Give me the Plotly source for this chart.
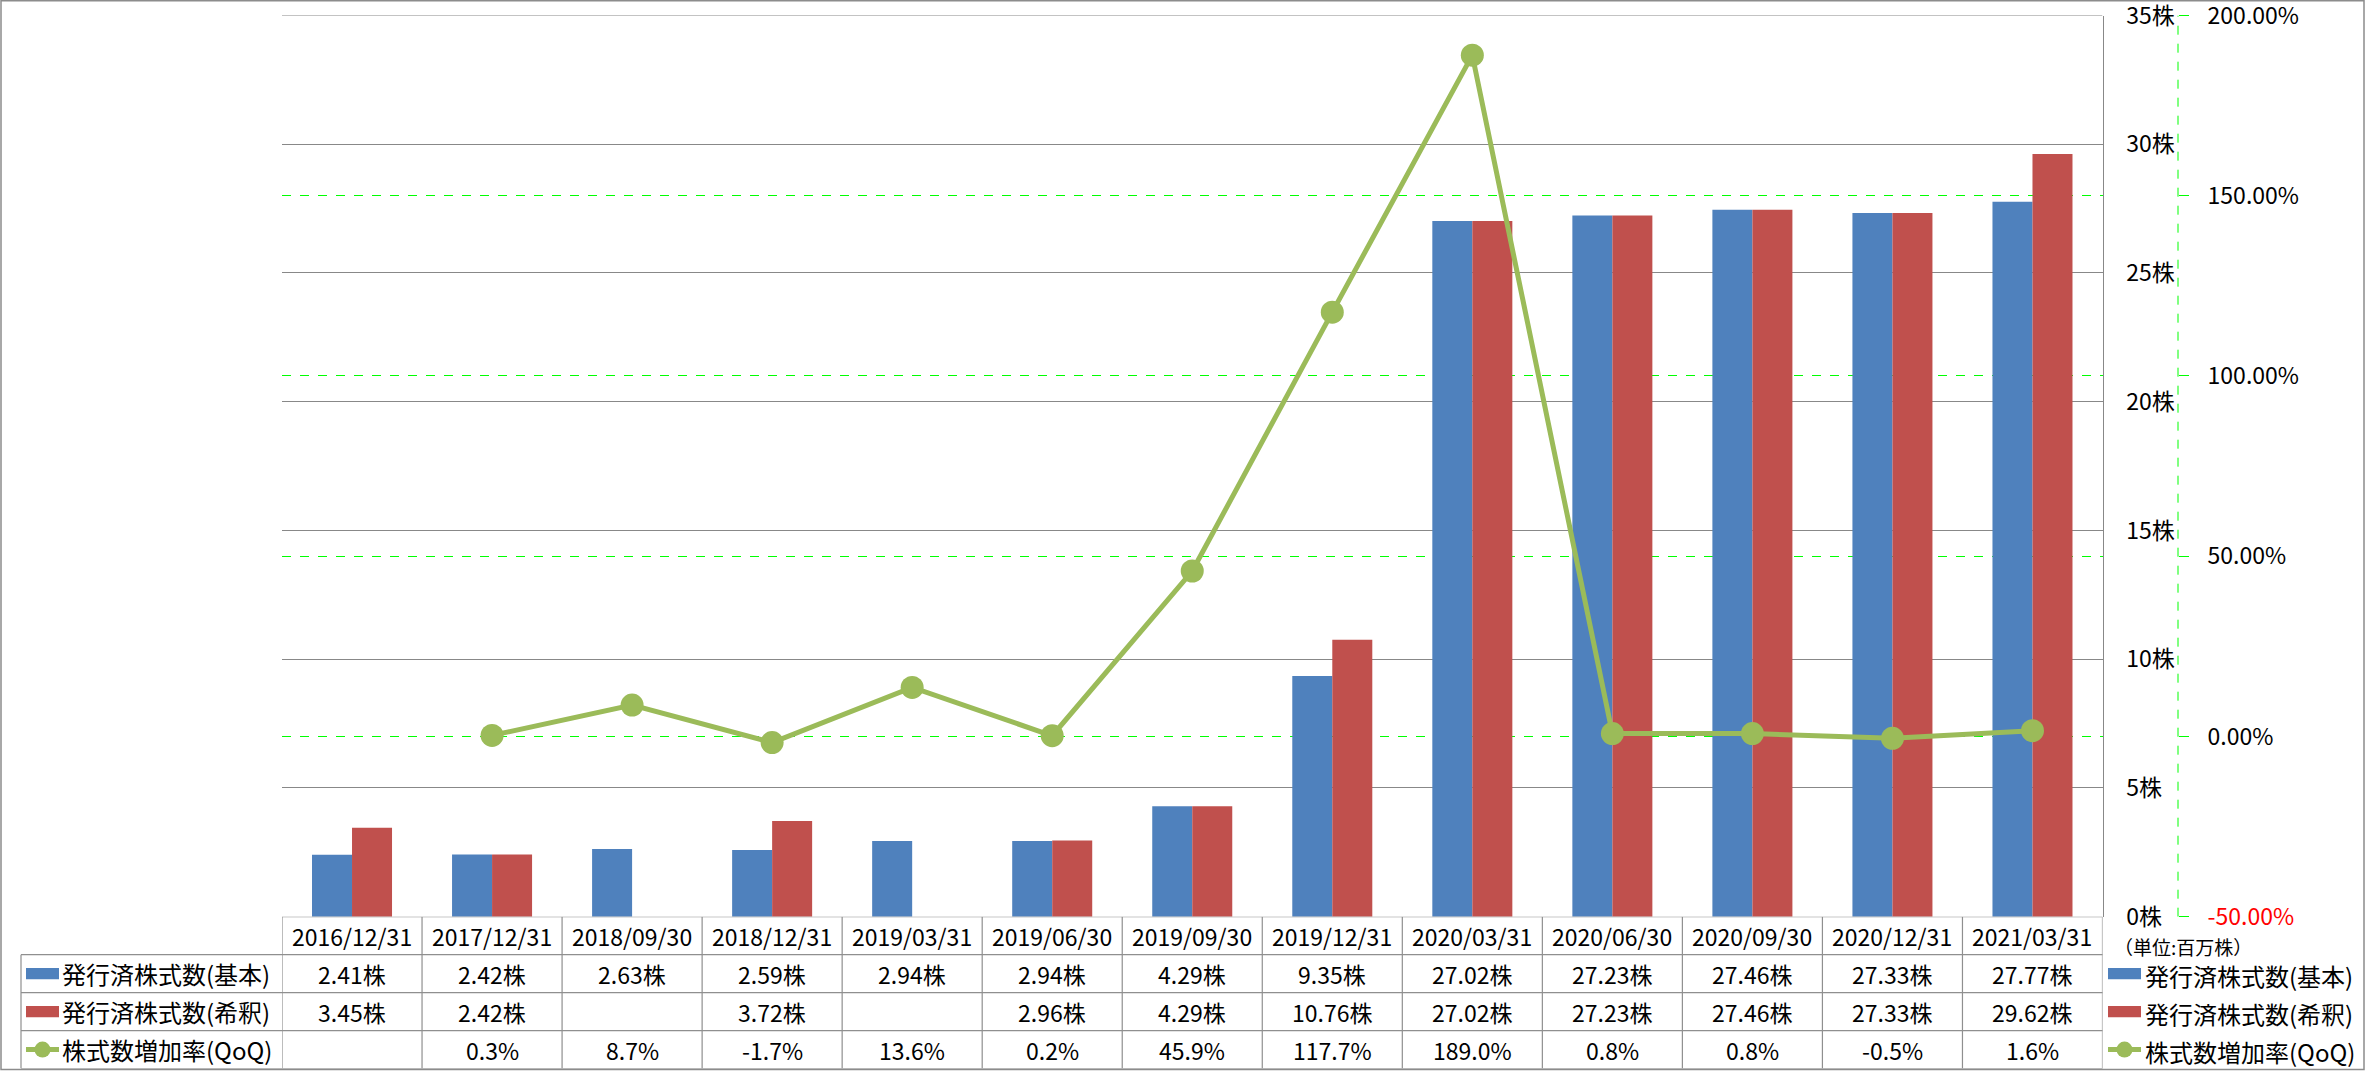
import plotly.graph_objects as go

W, H = 2367, 1071

dates = ["2016/12/31", "2017/12/31", "2018/09/30", "2018/12/31", "2019/03/31", "2019/06/30",
         "2019/09/30", "2019/12/31", "2020/03/31", "2020/06/30", "2020/09/30", "2020/12/31", "2021/03/31"]
basic = [2.41, 2.42, 2.63, 2.59, 2.94, 2.94, 4.29, 9.35, 27.02, 27.23, 27.46, 27.33, 27.77]
diluted = [3.45, 2.42, None, 3.72, None, 2.96, 4.29, 10.76, 27.02, 27.23, 27.46, 27.33, 29.62]
qoq = [None, 0.3, 8.7, -1.7, 13.6, 0.2, 45.9, 117.7, 189.0, 0.8, 0.8, -0.5, 1.6]

name_basic = "発行済株式数(基本)"
name_dil = "発行済株式数(希釈)"
name_qoq = "株式数増加率(QoQ)"
unit_text = "（単位:百万株）"

y1_ticks = [0, 5, 10, 15, 20, 25, 30, 35]
y2_ticks = [-50, 0, 50, 100, 150, 200]

BLUE = "#4F81BD"
RED = "#C0504D"
GREEN = "#9BBB59"
GRID = "#888888"
TGRID = "#8F8F8F"
FONT = "Noto Sans CJK JP"


def px(x):
    return x / W


def py(y):
    return 1 - y / H


PLOT_L, PLOT_R, PLOT_T, PLOT_B = 282, 2102.5, 15.5, 916.7
TABLE_B = 1068.5
AX2_X = 2178

fig = go.Figure()
fig.add_trace(go.Bar(x=dates, y=basic, name=name_basic, marker=dict(color=BLUE, line=dict(width=0))))
fig.add_trace(go.Bar(x=dates, y=diluted, name=name_dil, marker=dict(color=RED, line=dict(width=0))))
fig.add_trace(go.Scatter(x=dates, y=qoq, name=name_qoq, yaxis="y2", mode="lines+markers",
                         line=dict(color=GREEN, width=5), marker=dict(color=GREEN, size=23)))

shapes = []
annotations = []

# secondary axis line (dashed)
shapes.append(dict(type="line", xref="paper", yref="y2", x0=px(AX2_X), x1=px(AX2_X), y0=-50, y1=200,
                   line=dict(color="#00FF00", width=1, dash="dash")))
# top gridline at the range end (gray)
shapes.append(dict(type="line", xref="x", yref="y", x0=-0.5, x1=len(dates) - 0.5, y0=35, y1=35,
                   line=dict(color=GRID, width=1.2)))

# table grid
ncol = len(dates)
for k in range(ncol + 1):
    shapes.append(dict(type="line", xref="x", yref="y3", x0=k - 0.5, x1=k - 0.5, y0=0, y1=4,
                       line=dict(color=TGRID, width=1.2)))
shapes.append(dict(type="line", xref="paper", yref="y3", x0=px(21), x1=px(21), y0=1, y1=4,
                   line=dict(color=TGRID, width=1.2)))
shapes.append(dict(type="line", xref="x", yref="y3", x0=-0.5, x1=ncol - 0.5, y0=0, y1=0,
                   line=dict(color=TGRID, width=1.2)))
for r in [1, 2, 3, 4]:
    shapes.append(dict(type="line", xref="paper", yref="y3", x0=px(21), x1=px(PLOT_R), y0=r, y1=r,
                       line=dict(color=TGRID, width=1.2)))

tfont = dict(family=FONT, size=23, color="#000000")
for i, d in enumerate(dates):
    annotations.append(dict(x=d, y=0.5, xref="x", yref="y3", text=d, showarrow=False, font=tfont))
    if basic[i] is not None:
        annotations.append(dict(x=d, y=1.5, xref="x", yref="y3", text=f"{basic[i]:.2f}株", showarrow=False, font=tfont))
    if diluted[i] is not None:
        annotations.append(dict(x=d, y=2.5, xref="x", yref="y3", text=f"{diluted[i]:.2f}株", showarrow=False, font=tfont))
    if qoq[i] is not None:
        annotations.append(dict(x=d, y=3.5, xref="x", yref="y3", text=f"{qoq[i]:.1f}%", showarrow=False, font=tfont))

lfont = dict(family=FONT, size=24, color="#000000")


def legend_key(x0, row, kind, color):
    if kind == "bar":
        shapes.append(dict(type="rect", xref="paper", yref="y3", x0=px(x0), x1=px(x0 + 33),
                           y0=row + 0.5 - 0.15, y1=row + 0.5 + 0.15, fillcolor=color, line=dict(width=0)))
    else:
        shapes.append(dict(type="line", xref="paper", yref="y3", x0=px(x0), x1=px(x0 + 33),
                           y0=row + 0.5, y1=row + 0.5, line=dict(color=color, width=5)))
        shapes.append(dict(type="circle", xref="paper", yref="y3", x0=px(x0 + 16.5 - 8), x1=px(x0 + 16.5 + 8),
                           y0=row + 0.5 - 0.21, y1=row + 0.5 + 0.21, fillcolor=color, line=dict(width=0)))


items = [(name_basic, "bar", BLUE), (name_dil, "bar", RED), (name_qoq, "line", GREEN)]
for j, (nm, kind, col) in enumerate(items):
    row = j + 1
    legend_key(26, row, kind, col)
    annotations.append(dict(x=px(60), y=row + 0.5, xref="paper", yref="y3", text=nm, xanchor="left",
                            showarrow=False, font=lfont))
    legend_key(2108, row, kind, col)
    annotations.append(dict(x=px(2143), y=row + 0.55, xref="paper", yref="y3", text=nm, xanchor="left",
                            showarrow=False, font=lfont))

annotations.append(dict(x=px(2112), y=0.78, xref="paper", yref="y3", text=unit_text, xanchor="left",
                        showarrow=False, font=dict(family=FONT, size=19, color="#000000")))

# outer frame
shapes.append(dict(type="rect", xref="paper", yref="paper", x0=px(1), x1=px(2364), y0=py(1069.5), y1=py(0.8),
                   line=dict(color="#8C8C8C", width=1.5), fillcolor="rgba(0,0,0,0)"))

y1_text = [f"{v}株" for v in y1_ticks]
y2_text = [f'<span style="color:#FF0000">{v:.2f}%</span>' if v < 0 else f"{v:.2f}%" for v in y2_ticks]

fig.update_layout(
    width=W, height=H, autosize=False,
    margin=dict(l=0, r=0, t=0, b=0, pad=0, autoexpand=False),
    paper_bgcolor="white", plot_bgcolor="white",
    showlegend=False,
    barmode="group", bargap=0.4286, bargroupgap=0,
    font=dict(family=FONT, size=23, color="#000000"),
    xaxis=dict(domain=[px(PLOT_L), px(PLOT_R)], type="category", range=[-0.5, ncol - 0.5], automargin=False,
               showticklabels=False, showgrid=False, zeroline=False, showline=False, ticks=""),
    yaxis=dict(domain=[py(PLOT_B), py(PLOT_T)], range=[0, 35], side="right", tickmode="array",
               tickvals=y1_ticks, ticktext=y1_text, showgrid=True, gridcolor=GRID, gridwidth=1.2,
               zeroline=False, showline=True, linecolor=GRID, linewidth=1.2, ticks="", automargin=False,
               ticklabeloverflow="allow",
               ticklabelstandoff=18, tickfont=dict(family=FONT, size=23, color="#000000")),
    yaxis2=dict(overlaying="y", side="right", anchor="free", position=px(AX2_X), automargin=False,
                range=[-50, 200], tickmode="array", ticklabeloverflow="allow",
                tickvals=y2_ticks, ticktext=y2_text, showgrid=True, gridcolor="#00FF00", griddash="dash",
                gridwidth=1, zeroline=False, showline=False, ticks="outside", ticklen=10,
                tickcolor="#00FF00", tickwidth=1, ticklabelstandoff=14,
                tickfont=dict(family=FONT, size=23, color="#000000")),
    yaxis3=dict(domain=[py(TABLE_B), py(PLOT_B)], range=[4, 0], anchor="x", showticklabels=False,
                automargin=False, showgrid=False, zeroline=False, showline=False, ticks=""),
    shapes=shapes,
    annotations=annotations,
)

fig.write_html("out.html")
